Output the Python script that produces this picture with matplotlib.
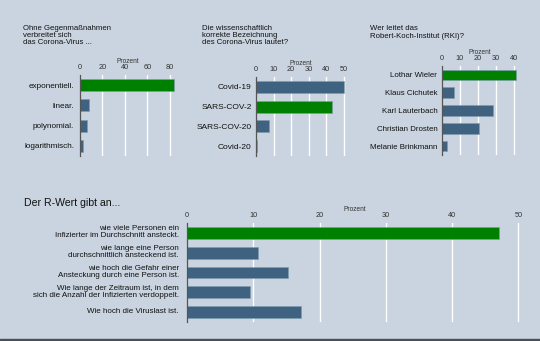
import matplotlib.pyplot as plt
from matplotlib.patches import Rectangle
from matplotlib.transforms import ScaledTranslation

plt.rcParams['font.family'] = ['Liberation Sans', 'DejaVu Sans']

# Daten
q1_titel = "Ohne Gegenmaßnahmen\nverbreitet sich\ndas Corona-Virus ..."
q1_kat = ["exponentiell.", "linear.", "polynomial.", "logarithmisch."]
q1_werte = [83.5, 8, 6, 3]
q1_ticks = [0, 20, 40, 60, 80]

q2_titel = "Die wissenschaftlich\nkorrekte Bezeichnung\ndes Corona-Virus lautet?"
q2_kat = ["Covid-19", "SARS-COV-2", "SARS-COV-20", "Covid-20"]
q2_werte = [50, 43.3, 7.2, 0.4]
q2_ticks = [0, 10, 20, 30, 40, 50]

q3_titel = "Wer leitet das\nRobert-Koch-Institut (RKI)?"
q3_kat = ["Lothar Wieler", "Klaus Cichutek", "Karl Lauterbach",
          "Christian Drosten", "Melanie Brinkmann"]
q3_werte = [41, 7, 28.5, 20.8, 2.8]
q3_ticks = [0, 10, 20, 30, 40]

q4_titel = "Der R-Wert gibt an..."
q4_kat = ["wie viele Personen ein\nInfizierter im Durchschnitt ansteckt.",
          "wie lange eine Person\ndurchschnittlich ansteckend ist.",
          "wie hoch die Gefahr einer\nAnsteckung durch eine Person ist.",
          "Wie lange der Zeitraum ist, in dem\nsich die Anzahl der Infizierten verdoppelt.",
          "Wie hoch die Viruslast ist."]
q4_werte = [47.1, 10.7, 15.3, 9.5, 17.2]
q4_ticks = [0, 10, 20, 30, 40, 50]

# richtige Antwort (grün)
q1_richtig = 0
q2_richtig = 1
q3_richtig = 0
q4_richtig = 0

HG = '#c9d4e0'
BLAU = '#3f6280'
GRUEN = '#008000'
W, H = 540, 341

fig = plt.figure(figsize=(W / 100, H / 100), dpi=100, facecolor=HG)


def achse(x0, x1, y0, y1):
    return fig.add_axes([x0 / W, 1 - y1 / H, (x1 - x0) / W, (y1 - y0) / H])


def balken(ax, kat, werte, richtig, ticks, xmax, fs_kat, pad_kat, ls=1.0):
    farben = [GRUEN if i == richtig else BLAU for i in range(len(kat))]
    y = list(range(len(kat)))
    ax.set_facecolor(HG)
    ax.barh(y, werte, height=0.6, color=farben, edgecolor='#7f9bb0',
            linewidth=0.4, zorder=3)
    ax.set_ylim(len(kat) - 0.5, -0.5)
    ax.set_xlim(0, xmax)
    ax.set_xticks(ticks)
    ax.set_yticks(y)
    ax.set_yticklabels(kat, fontsize=fs_kat, color='#111111', linespacing=ls)
    ax.xaxis.tick_top()
    ax.xaxis.set_label_position('top')
    ax.set_xlabel("Prozent", fontsize=4.7, color='#333333', labelpad=0.5)
    ax.tick_params(axis='x', length=0, labelsize=5.3, labelcolor='#333333', pad=3)
    ax.tick_params(axis='y', length=0, pad=pad_kat)
    for t in ticks[1:]:
        ax.axvline(t, color='white', linewidth=1.0, zorder=1)
    for s in ['top', 'right', 'bottom']:
        ax.spines[s].set_visible(False)
    ax.spines['left'].set_color('#555555')
    ax.spines['left'].set_linewidth(0.9)
    ax.spines['left'].set_zorder(4)


ax1 = achse(80, 175.6, 75, 156)
balken(ax1, q1_kat, q1_werte, q1_richtig, q1_ticks, 85, 5.9, 4.3)
fig.text(23 / W, 1 - 25 / H, q1_titel, fontsize=5.6, va='top', ha='left',
         linespacing=1.05, color='#111111')

ax2 = achse(256, 345.8, 77, 156)
balken(ax2, q2_kat, q2_werte, q2_richtig, q2_ticks, 51, 6.0, 3.2)
fig.text(201.5 / W, 1 - 25 / H, q2_titel, fontsize=5.6, va='top', ha='left',
         linespacing=1.05, color='#111111')

ax3 = achse(441.7, 517.7, 66, 155)
balken(ax3, q3_kat, q3_werte, q3_richtig, q3_ticks, 42, 5.7, 3.2)
fig.text(370.5 / W, 1 - 25.5 / H, q3_titel, fontsize=5.6, va='top', ha='left',
         linespacing=1.05, color='#111111')

ax4 = achse(187, 521.8, 223, 322)
balken(ax4, q4_kat, q4_werte, q4_richtig, q4_ticks, 50.5, 5.8, 5.8, ls=0.95)
for lab in ax4.get_yticklabels():
    lab.set_horizontalalignment('right')
    # Beschriftung leicht nach oben versetzt wie im Original
    lab.set_transform(lab.get_transform() + ScaledTranslation(0, 1.5 / 100, fig.dpi_scale_trans))
fig.text(24 / W, 1 - 198 / H, q4_titel, fontsize=7.6, va='top', ha='left',
         color='#111111')

# dunkler Rand unten
fig.add_artist(Rectangle((0, 0), 1, 2.5 / H, transform=fig.transFigure,
                         color='#4a4f58', zorder=10))

fig.savefig("out.png", dpi=100, facecolor=HG)
